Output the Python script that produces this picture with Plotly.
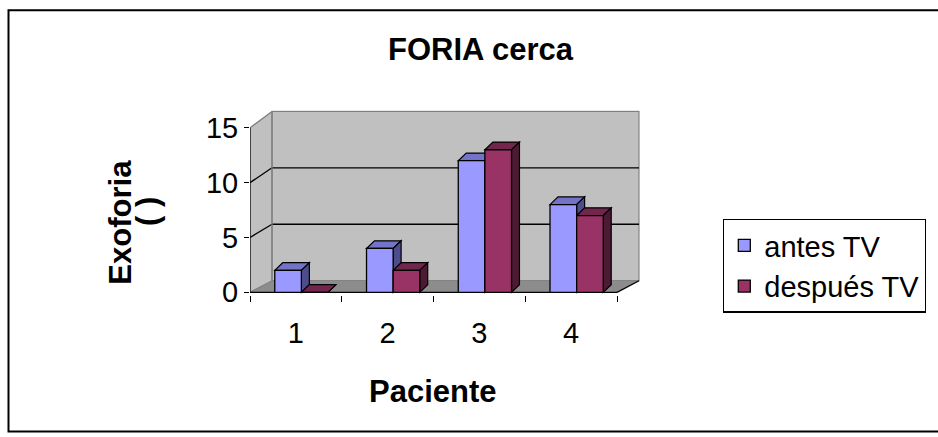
import plotly.graph_objects as go

# Data
pacientes = ["1", "2", "3", "4"]
antes_tv = [2, 4, 12, 8]
despues_tv = [0, 2, 13, 7]
series_names = ["antes TV", "después TV"]
y_ticks = [0, 5, 10, 15]

W, H = 938, 437

# Colours (front, top, side)
BLUE = ("#9999FF", "#7373C8", "#4D4D8C")
RED = ("#993366", "#73264D", "#4D1A33")
WALL = "#C0C0C0"
FLOOR = "#8C8C8C"
EDGE = "#808080"

# Pseudo-3D geometry in data units
X0, X1 = 0.5, 4.5          # front extent of the category axis
Y_TOP = 15                  # top of value axis
DX = 0.24                   # depth shift of the back wall (x)
B0, BK = 1.06, 1.029        # back wall: y_back = B0 + BK * v
BAR_W = 0.29
BAR_OFF = (-0.23, 0.06)
BDX, BDY = 0.087, 0.7       # bar depth

def back_y(v):
    return B0 + BK * v

def poly(pts, fill, line_color=None, width=1.0, layer="below"):
    d = "M " + " L ".join(f"{x},{y}" for x, y in pts) + " Z"
    return dict(type="path", path=d, xref="x", yref="y", layer=layer,
                fillcolor=fill,
                line=dict(color=line_color or fill, width=width if line_color else 0))

def seg(p, q, color, width=1.2, layer="below"):
    return dict(type="line", xref="x", yref="y", layer=layer,
                x0=p[0], y0=p[1], x1=q[0], y1=q[1],
                line=dict(color=color, width=width))

shapes = []
# Left side wall
shapes.append(poly([(X0, 0), (X0 + DX, back_y(0)), (X0 + DX, back_y(Y_TOP)), (X0, Y_TOP)], WALL))
# Back wall
shapes.append(poly([(X0 + DX, back_y(0)), (X1 + DX, back_y(0)),
                    (X1 + DX, back_y(Y_TOP)), (X0 + DX, back_y(Y_TOP))], WALL, EDGE, 1.2))
# Floor
shapes.append(poly([(X0, 0), (X1, 0), (X1 + DX, back_y(0)), (X0 + DX, back_y(0))], FLOOR))
# Gridlines on side and back walls
for v in y_ticks[1:-1]:
    shapes.append(seg((X0, v), (X0 + DX, back_y(v)), "black", 1.3))
    shapes.append(seg((X0 + DX, back_y(v)), (X1 + DX, back_y(v)), "black", 1.3))
# Wall edges
shapes.append(seg((X0, Y_TOP), (X0 + DX, back_y(Y_TOP)), EDGE, 1.3))
shapes.append(seg((X0 + DX, back_y(0)), (X0 + DX, back_y(Y_TOP)), EDGE, 1.3))
shapes.append(seg((X0, 0), (X0 + DX, back_y(0)), EDGE, 1.3))
# Axes lines
shapes.append(seg((X0, 0), (X0, Y_TOP), "black", 1.3))
shapes.append(seg((X0, 0), (X1, 0), "black", 1.3))
shapes.append(seg((X1, 0), (X1 + DX, back_y(0)), "black", 1.3))

# Bar top and side faces
cats = [1, 2, 3, 4]
for vals, off, cols in ((antes_tv, BAR_OFF[0], BLUE), (despues_tv, BAR_OFF[1], RED)):
    for c, v in zip(cats, vals):
        xl = c + off
        xr = xl + BAR_W
        shapes.append(poly([(xl, v), (xl + BDX, v + BDY), (xr + BDX, v + BDY), (xr, v)],
                           cols[1], "black", 1.2))
        shapes.append(poly([(xr, 0), (xr, v), (xr + BDX, v + BDY), (xr + BDX, BDY)],
                           cols[2], "black", 1.2))

fig = go.Figure()
for name, vals, off, cols in ((series_names[0], antes_tv, BAR_OFF[0], BLUE),
                              (series_names[1], despues_tv, BAR_OFF[1], RED)):
    fig.add_trace(go.Bar(
        name=name, x=cats, y=vals, base=0, width=BAR_W, offset=off,
        marker=dict(color=cols[0], line=dict(color="black", width=1.3)),
        hoverinfo="x+y+name",
    ))

# Outer chart frame
shapes.append(dict(type="rect", xref="paper", yref="paper", layer="above",
                   x0=8.5 / W, x1=1.02, y0=-0.02, y1=(H - 10.5) / H,
                   line=dict(color="black", width=2), fillcolor="rgba(0,0,0,0)"))

FONT = "Liberation Sans, Arial, sans-serif"
TICK_SIZE = 29
TITLE_SIZE = 31

fig.update_layout(
    width=W, height=H,
    margin=dict(l=0, r=0, t=0, b=0),
    paper_bgcolor="white", plot_bgcolor="rgba(0,0,0,0)",
    barmode="overlay",
    font=dict(family=FONT, color="black", size=TICK_SIZE),
    showlegend=True,
    legend=dict(
        x=723 / W, y=(H - 226) / H, xanchor="left", yanchor="top",
        bordercolor="black", borderwidth=1.3, bgcolor="white",
        font=dict(size=TICK_SIZE, family=FONT), itemwidth=30, tracegroupgap=0,
    ),
    xaxis=dict(
        domain=[250 / W, (250 + 4.25 * 91.75) / W],
        range=[0.5, 4.75], showgrid=False, zeroline=False, showline=False,
        tickmode="array", tickvals=cats, ticktext=pacientes, ticks="",
        ticklabelstandoff=18,
        minor=dict(tickmode="array", tickvals=[0.5, 1.5, 2.5, 3.5, 4.5],
                   ticks="outside", ticklen=6, tickcolor="black", tickwidth=1.3),
        tickfont=dict(size=TICK_SIZE),
        fixedrange=True,
    ),
    yaxis=dict(
        domain=[(H - 304.27) / H, (H - 113.9) / H],
        range=[-0.2, 16.6], showgrid=False, zeroline=False, showline=False,
        tickmode="array", tickvals=y_ticks, ticks="outside", ticklen=5,
        tickcolor="black", tickwidth=1.3, tickfont=dict(size=TICK_SIZE),
        fixedrange=True,
    ),
    shapes=shapes,
    annotations=[
        dict(text="<b>FORIA cerca</b>", xref="paper", yref="paper",
             x=481 / W, y=(H - 51) / H, xanchor="center", yanchor="middle",
             showarrow=False, font=dict(size=TITLE_SIZE)),
        dict(text="<b>Paciente</b>", xref="paper", yref="paper",
             x=433 / W, y=(H - 404) / H, xanchor="center", yanchor="middle",
             showarrow=False, font=dict(size=TITLE_SIZE)),
        dict(text="<b>Exoforia</b>", xref="paper", yref="paper",
             x=121 / W, y=(H - 230) / H, xanchor="center", yanchor="middle",
             showarrow=False, textangle=-90, font=dict(size=TITLE_SIZE)),
        dict(text="<b>( )</b>", xref="paper", yref="paper",
             x=148 / W, y=(H - 219) / H, xanchor="center", yanchor="middle",
             showarrow=False, textangle=-90, font=dict(size=TITLE_SIZE)),
    ],
)

fig.write_html("out.html")
